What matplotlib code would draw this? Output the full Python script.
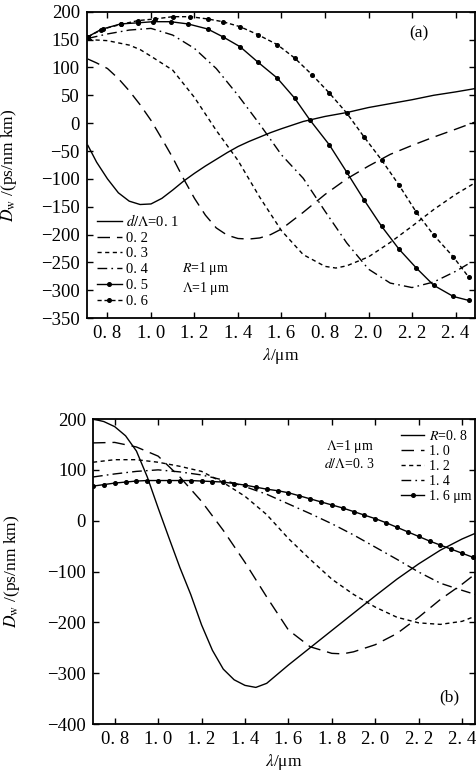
import matplotlib
matplotlib.use("Agg")
import matplotlib.pyplot as plt

plt.rcParams['font.family'] = ['Liberation Serif', 'DejaVu Serif']
plt.rcParams['mathtext.fontset'] = 'stix'

# ---- panel (a): R = 1 um, Lambda = 1 um, various d/Lambda ----
xa = [0.71, 0.75, 0.8, 0.85, 0.9, 0.95, 1.0, 1.05, 1.1, 1.15, 1.2, 1.25, 1.3, 1.35, 1.4, 1.45,
      1.5, 1.55, 1.6, 1.7, 1.8, 1.9, 2.0, 2.1, 2.2, 2.3, 2.4, 2.49]
d01 = [-40, -70, -100, -125, -140, -146, -145, -135, -120, -104, -90, -77, -65, -53, -42, -33,
       -25, -17, -10, 3, 12, 19, 28, 35, 42, 50, 56, 62]
d02 = [115, 108, 98, 80, 58, 33, 5, -28, -62, -100, -135, -165, -188, -201, -207, -208,
       -206, -200, -190, -160, -128, -100, -77, -56, -40, -25, -11, 2]

xb = [0.71, 0.8, 0.9, 0.95, 1.0, 1.1, 1.2, 1.3, 1.4, 1.5, 1.6, 1.7, 1.8, 1.85, 1.9, 2.0,
      2.1, 2.2, 2.3, 2.4, 2.49]
d03 = [150, 148, 140, 132, 120, 95, 46, -13, -67, -133, -193, -236, -257, -260, -256, -240,
       -214, -185, -155, -128, -107]

x04 = [0.71, 0.8, 0.9, 1.0, 1.1, 1.2, 1.3, 1.4, 1.5, 1.6, 1.7, 1.8, 1.9, 2.0, 2.1, 2.2,
       2.3, 2.4, 2.47]
d04 = [152, 160, 167, 170, 158, 134, 98, 50, -2, -57, -99, -158, -215, -262, -287, -295,
       -285, -266, -250]

x05 = [0.71, 0.77, 0.86, 0.94, 1.01, 1.09, 1.17, 1.26, 1.33, 1.41, 1.49, 1.58, 1.66, 1.73,
       1.82, 1.90, 1.98, 2.06, 2.14, 2.22, 2.30, 2.39, 2.46]
d05 = [155, 168, 178, 180, 182, 182, 178, 169, 155, 137, 110, 81, 45, 6,
       -39, -88, -138, -185, -226, -260, -291, -311, -318]

x06 = [0.71, 0.78, 0.86, 0.94, 1.02, 1.10, 1.18, 1.26, 1.33, 1.41, 1.49, 1.58, 1.66, 1.74,
       1.82, 1.90, 1.98, 2.06, 2.14, 2.22, 2.30, 2.39, 2.46]
d06 = [155, 169, 177, 184, 187, 191, 191, 187, 182, 173, 159, 141, 117, 87,
       54, 18, -25, -66, -111, -160, -201, -240, -276]

ticks_a = [0.8, 1.0, 1.2, 1.4, 1.6, 1.8, 2.0, 2.2, 2.4]
ticklabels_a = ['0. 8', '1. 0', '1. 2', '1. 4', '1. 6', '0. 8', '2. 0', '2. 2', '2. 4']

# ---- panel (b): Lambda = 1 um, d/Lambda = 0.3, various R ----
xr = [0.7, 0.75, 0.8, 0.85, 0.9, 0.95, 1.0, 1.05, 1.1, 1.15, 1.2, 1.25, 1.3, 1.35, 1.4, 1.45,
      1.5, 1.6, 1.7, 1.8, 1.9, 2.0, 2.1, 2.2, 2.3, 2.4, 2.46]
r08 = [200, 195, 185, 167, 137, 86, 25, -34, -92, -145, -205, -255, -292, -313, -324, -328,
       -320, -284, -250, -216, -182, -148, -115, -85, -58, -36, -25]

xr2 = [0.7, 0.8, 0.9, 1.0, 1.1, 1.2, 1.3, 1.4, 1.5, 1.6, 1.7, 1.8, 1.85, 1.9, 2.0, 2.1,
       2.2, 2.3, 2.4, 2.46]
r10 = [153, 154, 145, 127, 86, 38, -19, -82, -150, -215, -248, -261, -262, -258, -244, -222,
       -190, -155, -125, -105]

xr3 = [0.7, 0.8, 0.9, 1.0, 1.1, 1.2, 1.3, 1.4, 1.5, 1.6, 1.7, 1.8, 1.9, 2.0, 2.1, 2.2,
       2.3, 2.4, 2.46]
r12 = [115, 120, 120, 115, 107, 97, 75, 48, 12, -35, -76, -115, -145, -170, -190, -201,
       -204, -198, -188]
r14 = [86, 92, 97, 100, 96, 90, 80, 67, 52, 33, 14, -6, -28, -52, -76, -101,
       -123, -137, -145]

x16 = [0.70, 0.75, 0.80, 0.85, 0.90, 0.95, 1.00, 1.05, 1.10, 1.15, 1.20, 1.25, 1.30, 1.35,
       1.40, 1.45, 1.50, 1.55, 1.60, 1.65, 1.70, 1.75, 1.80, 1.85, 1.90, 1.95, 2.00, 2.05,
       2.10, 2.15, 2.20, 2.25, 2.30, 2.35, 2.40, 2.45]
r16 = [68, 71, 74, 76, 78, 79, 79, 79, 79, 79, 78, 77, 76, 73,
       70, 66, 62, 59, 55, 49, 43, 37, 31, 25, 18, 11, 4, -4,
       -13, -22, -31, -40, -48, -56, -64, -72]

ticks_b = [0.8, 1.0, 1.2, 1.4, 1.6, 1.8, 2.0, 2.2, 2.4]
ticklabels_b = ['0. 8', '1. 0', '1. 2', '1. 4', '1. 6', '1. 8', '2. 0', '2. 2', '2. 4']

long_dash = (0, (9, 5))
short_dash = (0, (3, 2.5))
dash_dot = (0, (7, 3, 1.2, 3))

fig = plt.figure(figsize=(4.77, 7.78), dpi=100)
ax1 = fig.add_axes([0.182, 0.591, 0.814, 0.394])
ax2 = fig.add_axes([0.195, 0.0694, 0.801, 0.392])

lw = 1.0
ms = 2.6
ax1.plot(xa, d01, color='k', lw=lw, label='$d/\\mathit{\\Lambda}$=0. 1')
ax1.plot(xa, d02, color='k', lw=lw, ls=long_dash, label='0. 2')
ax1.plot(xb, d03, color='k', lw=lw, ls=short_dash, label='0. 3')
ax1.plot(x04, d04, color='k', lw=lw, ls=dash_dot, label='0. 4')
ax1.plot(x05, d05, color='k', lw=lw, marker='o', ms=ms, label='0. 5')
ax1.plot(x06, d06, color='k', lw=lw, ls=(0, (3, 2)), marker='o', ms=ms, label='0. 6')

ax1.set_xlim(0.705, 2.49)
ax1.set_ylim(-350, 200)
ax1.set_yticks(range(-350, 201, 50))
ax1.set_xticks(ticks_a)
ax1.set_xticklabels(ticklabels_a)
ax1.set_xlabel('$\\lambda$/μm', fontsize=12.5, labelpad=3)
ax1.set_ylabel('$D_\\mathrm{w}$ /(ps/nm km)', fontsize=12.5)
ax1.yaxis.set_label_coords(-0.175, 0.5)
ax1.legend(loc='lower left', bbox_to_anchor=(0.0, 0.0), frameon=False, fontsize=10.5,
           handlelength=1.7, handletextpad=0.3, labelspacing=0.18, numpoints=1,
           borderaxespad=0.3)
ax1.text(0.83, 0.915, '(a)', transform=ax1.transAxes, fontsize=12.5)
ax1.text(0.245, 0.15, '$R$=1 μm', transform=ax1.transAxes, fontsize=10)
ax1.text(0.245, 0.085, '$\\mathit{\\Lambda}$=1 μm', transform=ax1.transAxes, fontsize=10)

ax2.plot(xr, r08, color='k', lw=lw, label='$R$=0. 8')
ax2.plot(xr2, r10, color='k', lw=lw, ls=long_dash, label='1. 0')
ax2.plot(xr3, r12, color='k', lw=lw, ls=short_dash, label='1. 2')
ax2.plot(xr3, r14, color='k', lw=lw, ls=dash_dot, label='1. 4')
ax2.plot(x16, r16, color='k', lw=lw, marker='o', ms=ms, label='1. 6 μm')

ax2.set_xlim(0.70, 2.46)
ax2.set_ylim(-400, 200)
ax2.set_yticks(range(-400, 201, 100))
ax2.set_xticks(ticks_b)
ax2.set_xticklabels(ticklabels_b)
ax2.set_xlabel('$\\lambda$/μm', fontsize=12.5, labelpad=3)
ax2.set_ylabel('$D_\\mathrm{w}$ /(ps/nm km)', fontsize=12.5)
ax2.yaxis.set_label_coords(-0.185, 0.5)
ax2.legend(loc='upper left', bbox_to_anchor=(0.78, 1.0), frameon=False, fontsize=10,
           handlelength=1.7, handletextpad=0.3, labelspacing=0.15, numpoints=1,
           borderaxespad=0.3)
ax2.text(0.61, 0.9, '$\\mathit{\\Lambda}$=1 μm', transform=ax2.transAxes, fontsize=10)
ax2.text(0.605, 0.838, '$d/\\mathit{\\Lambda}$=0. 3', transform=ax2.transAxes, fontsize=10)
ax2.text(0.905, 0.075, '(b)', transform=ax2.transAxes, fontsize=12.5)

for ax in (ax1, ax2):
    ax.tick_params(direction='in', top=True, right=True, length=4, width=1,
                   labelsize=13.5, pad=5)
    for s in ax.spines.values():
        s.set_linewidth(1.3)

fig.savefig('out.png', dpi=100)
